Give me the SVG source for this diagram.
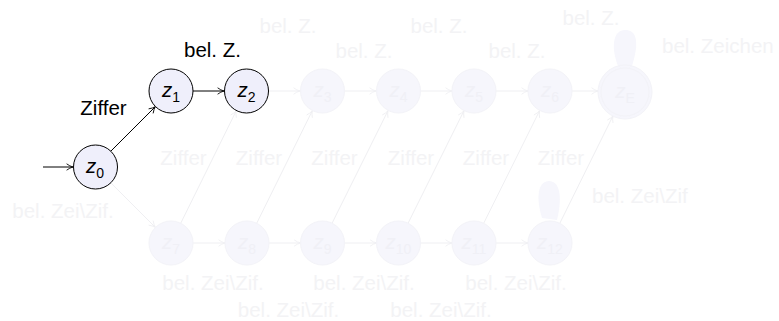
<svg xmlns="http://www.w3.org/2000/svg" width="779" height="321" viewBox="0 0 779 321">
<defs>
<style>
text{font-family:"Liberation Sans",Arial,sans-serif;font-size:20.5px}
.lbl{fill:#000}
.flbl{fill:#f3f3f5}
.n circle{fill:#efeffb;stroke:#000;stroke-width:1}
.f circle{fill:#f6f6fc;stroke:#f3f3f8;stroke-width:1}
.f text{fill:#f0f0f6}
.nl{font-style:italic;text-anchor:middle}
.sub{font-style:normal;font-size:14px}
.e{stroke:#000;stroke-width:1;fill:none;marker-end:url(#ah)}
.fe{stroke:#efeff2;stroke-width:1;fill:none;marker-end:url(#fah)}
.mid{text-anchor:middle}
</style>
<marker id="ah" viewBox="0 0 10 10" refX="9" refY="5" markerWidth="8" markerHeight="8" markerUnits="userSpaceOnUse" orient="auto">
<path d="M1,1 Q5,4 9,5 Q5,6 1,9" fill="none" stroke="#000" stroke-width="1.1"/>
</marker>
<marker id="fah" viewBox="0 0 10 10" refX="9" refY="5" markerWidth="8" markerHeight="8" markerUnits="userSpaceOnUse" orient="auto">
<path d="M1,1 Q5,4 9,5 Q5,6 1,9" fill="none" stroke="#efeff2" stroke-width="1.1"/>
</marker>
</defs>
<rect width="779" height="321" fill="#fff"/>

<g id="connectors">
<line class="e" x1="43" y1="167" x2="73" y2="167"/>
<line class="e" x1="110.6" y1="151.4" x2="155.4" y2="106.6"/>
<line class="e" x1="193" y1="91" x2="224" y2="91"/>
<line class="fe" x1="268.5" y1="91" x2="300" y2="91"/>
<line class="fe" x1="344.5" y1="91" x2="376" y2="91"/>
<line class="fe" x1="420" y1="91" x2="452" y2="91"/>
<line class="fe" x1="496" y1="91" x2="528" y2="91"/>
<line class="fe" x1="572" y1="91" x2="598" y2="91"/>
<path d="M632,66 C640,40 636,30 625,30 C614,30 610,45 618,66 Z" fill="#f6f6fc"/>
<line class="fe" x1="110.6" y1="182.6" x2="155.4" y2="227.4"/>
<line class="fe" x1="193" y1="243" x2="225" y2="243"/>
<line class="fe" x1="269" y1="243" x2="300.5" y2="243"/>
<line class="fe" x1="344.5" y1="243" x2="376.5" y2="243"/>
<line class="fe" x1="420.5" y1="243" x2="452" y2="243"/>
<line class="fe" x1="496" y1="243" x2="528" y2="243"/>
<path d="M557,220 C563,195 559,181 549,181 C539,181 535,195 542,218 Z" fill="#f6f6fc"/>
<line class="fe" x1="180.7" y1="223.3" x2="236.3" y2="110.7"/>
<line class="fe" x1="256.7" y1="223.3" x2="312.3" y2="110.7"/>
<line class="fe" x1="332" y1="223.3" x2="388" y2="110.7"/>
<line class="fe" x1="408" y1="223.3" x2="464" y2="110.7"/>
<line class="fe" x1="483.7" y1="223.3" x2="539.6" y2="110.7"/>
<line class="fe" x1="559.8" y1="223.3" x2="613" y2="115.8"/>
</g>

<g id="z0" class="n"><circle cx="95.5" cy="167" r="22"/><text class="nl" x="95" y="173">z<tspan class="sub" dy="5">0</tspan></text></g>
<g id="z1" class="n"><circle cx="171" cy="91" r="22"/><text class="nl" x="171" y="97">z<tspan class="sub" dy="5">1</tspan></text></g>
<g id="z2" class="n"><circle cx="246.5" cy="91" r="22"/><text class="nl" x="246.5" y="97">z<tspan class="sub" dy="5">2</tspan></text></g>
<g id="z3" class="f"><circle cx="322.5" cy="91" r="22"/><text class="nl" x="322.5" y="97">z<tspan class="sub" dy="5">3</tspan></text></g>
<g id="z4" class="f"><circle cx="398.5" cy="91" r="22"/><text class="nl" x="398.5" y="97">z<tspan class="sub" dy="5">4</tspan></text></g>
<g id="z5" class="f"><circle cx="474" cy="91" r="22"/><text class="nl" x="474" y="97">z<tspan class="sub" dy="5">5</tspan></text></g>
<g id="z6" class="f"><circle cx="550" cy="91" r="22"/><text class="nl" x="550" y="97">z<tspan class="sub" dy="5">6</tspan></text></g>
<g id="zE" class="f"><circle cx="625" cy="92" r="27"/><circle cx="625" cy="92" r="24" style="fill:none"/><text class="nl" x="625" y="98">z<tspan class="sub" dy="5">E</tspan></text></g>
<g id="z7" class="f"><circle cx="171" cy="243" r="22"/><text class="nl" x="171" y="249">z<tspan class="sub" dy="5">7</tspan></text></g>
<g id="z8" class="f"><circle cx="247" cy="243" r="22"/><text class="nl" x="247" y="249">z<tspan class="sub" dy="5">8</tspan></text></g>
<g id="z9" class="f"><circle cx="322.5" cy="243" r="22"/><text class="nl" x="322.5" y="249">z<tspan class="sub" dy="5">9</tspan></text></g>
<g id="z10" class="f"><circle cx="398.5" cy="243" r="22"/><text class="nl" x="398.5" y="249">z<tspan class="sub" dy="5">10</tspan></text></g>
<g id="z11" class="f"><circle cx="474" cy="243" r="22"/><text class="nl" x="474" y="249">z<tspan class="sub" dy="5">11</tspan></text></g>
<g id="z12" class="f"><circle cx="550" cy="243" r="22"/><text class="nl" x="550" y="249">z<tspan class="sub" dy="5">12</tspan></text></g>

<g id="labels">
<text class="lbl mid" x="103.5" y="115">Ziffer</text>
<text class="lbl mid" x="212.5" y="57">bel. Z.</text>
<text class="flbl mid" x="288" y="33">bel. Z.</text>
<text class="flbl mid" x="364" y="58">bel. Z.</text>
<text class="flbl mid" x="439" y="33">bel. Z.</text>
<text class="flbl mid" x="517" y="58">bel. Z.</text>
<text class="flbl mid" x="591" y="25">bel. Z.</text>
<text class="flbl" x="662" y="53">bel. Zeichen</text>
<text class="flbl mid" x="183.5" y="165">Ziffer</text>
<text class="flbl mid" x="259" y="165">Ziffer</text>
<text class="flbl mid" x="334.5" y="165">Ziffer</text>
<text class="flbl mid" x="411" y="165">Ziffer</text>
<text class="flbl mid" x="486" y="165">Ziffer</text>
<text class="flbl mid" x="561" y="165">Ziffer</text>
<text class="flbl mid" x="63" y="218">bel. Zei\Zif.</text>
<text class="flbl mid" x="213" y="290">bel. Zei\Zif.</text>
<text class="flbl mid" x="288.5" y="317">bel. Zei\Zif.</text>
<text class="flbl mid" x="364" y="290">bel. Zei\Zif.</text>
<text class="flbl mid" x="441" y="317">bel. Zei\Zif.</text>
<text class="flbl mid" x="516" y="290">bel. Zei\Zif.</text>
<text class="flbl" x="592" y="203">bel. Zei\Zif</text>
</g>
</svg>
